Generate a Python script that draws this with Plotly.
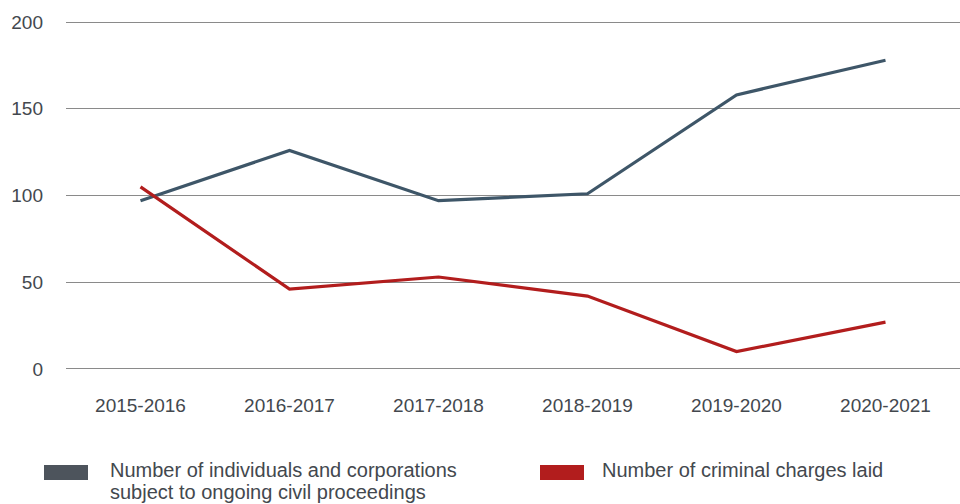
import plotly.graph_objects as go

categories = ["2015-2016", "2016-2017", "2017-2018", "2018-2019", "2019-2020", "2020-2021"]
civil_proceedings = [97, 126, 97, 101, 158, 178]
criminal_charges = [105, 46, 53, 42, 10, 27]
y_ticks = [0, 50, 100, 150, 200]

series_names = [
    "Number of individuals and corporations<br>subject to ongoing civil proceedings",
    "Number of criminal charges laid",
]
line_colors = ["#3e5668", "#b21d1d"]
swatch_colors = ["#4d545c", "#b21d1d"]

FONT = "Liberation Sans, Arial, Helvetica, sans-serif"
TEXT = "#43484e"

fig = go.Figure()
fig.add_trace(go.Scatter(x=categories, y=civil_proceedings, mode="lines",
                         line=dict(color=line_colors[0], width=3.2), name=series_names[0]))
fig.add_trace(go.Scatter(x=categories, y=criminal_charges, mode="lines",
                         line=dict(color=line_colors[1], width=3.2), name=series_names[1]))

W, H = 960, 504
ml, mr, mt, mb = 66, 0, 21, 134
fig.update_layout(
    width=W, height=H,
    margin=dict(l=ml, r=mr, t=mt, b=mb),
    paper_bgcolor="white", plot_bgcolor="white",
    showlegend=False,
    font=dict(family=FONT, size=19, color=TEXT),
    xaxis=dict(type="category", range=[-0.5, 5.5], showgrid=False, zeroline=False,
               showline=False, ticks="", tickfont=dict(size=19, color=TEXT),
               ticklabelstandoff=22),
    yaxis=dict(range=[-0.6, 200.6], tickvals=y_ticks, showgrid=True, gridcolor="#8a8a8a",
               gridwidth=1.2, zeroline=False, showline=False, ticks="",
               tickfont=dict(size=19, color=TEXT), ticklabelstandoff=22),
)

# legend drawn as swatches + text below the plot
def px_to_paper_x(px):
    return (px - ml) / (W - ml - mr)

def px_to_paper_y(py):
    return (H - mb - py) / (H - mt - mb)

swatch_x = [44, 540]
text_x = [109, 601]
line_tops = [458, 480]
for i in range(2):
    fig.add_shape(type="rect", xref="paper", yref="paper",
                  x0=px_to_paper_x(swatch_x[i]), x1=px_to_paper_x(swatch_x[i] + 44),
                  y0=px_to_paper_y(480), y1=px_to_paper_y(465),
                  fillcolor=swatch_colors[i], line=dict(width=0))
    for j, line_text in enumerate(series_names[i].split("<br>")):
        fig.add_annotation(xref="paper", yref="paper",
                           x=px_to_paper_x(text_x[i]), y=px_to_paper_y(line_tops[j]),
                           xanchor="left", yanchor="top", align="left",
                           text=line_text, showarrow=False, borderpad=0,
                           font=dict(size=20, color=TEXT, family=FONT))

fig.write_html("out.html")
